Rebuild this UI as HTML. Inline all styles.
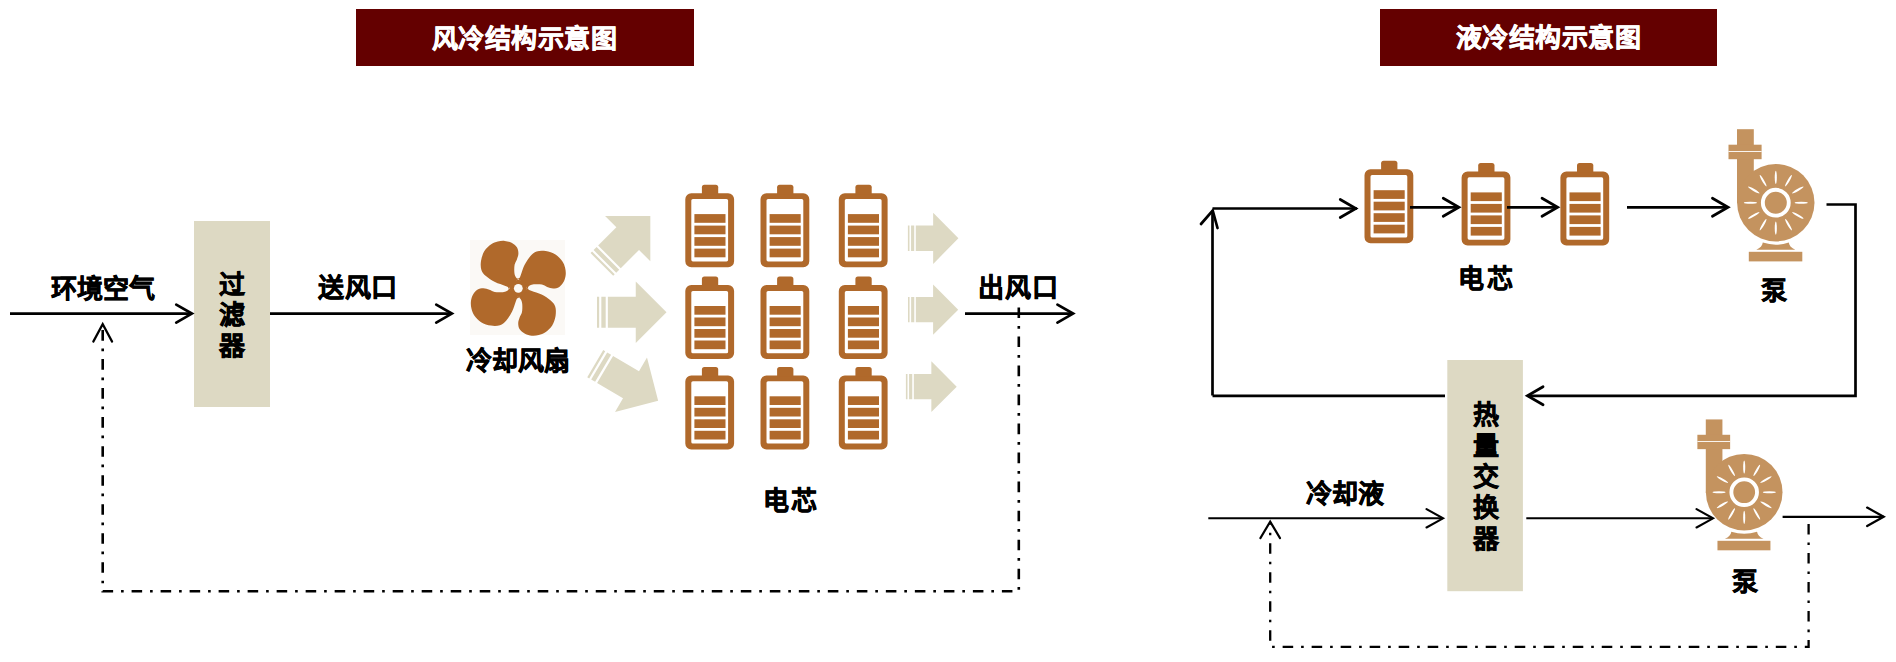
<!DOCTYPE html><html lang="zh-CN"><head><meta charset="utf-8"><style>
html,body{margin:0;padding:0;background:#fff;}
body{width:1896px;height:662px;position:relative;overflow:hidden;font-family:"Liberation Sans",sans-serif;}
.t{position:absolute;font-size:26px;line-height:26px;font-weight:bold;-webkit-text-stroke:0.6px currentColor;white-space:nowrap;}
.v{width:26px;white-space:normal;line-height:30.9px;}
</style></head><body>
<svg width="1896" height="662" viewBox="0 0 1896 662" style="position:absolute;left:0;top:0">
<rect x="356" y="9" width="338" height="57" fill="#640000"/>
<rect x="1380" y="9" width="337" height="57" fill="#640000"/>
<rect x="194" y="221" width="76" height="186" fill="#DDD9C3"/>
<rect x="1447.3" y="360" width="75.6" height="231.2" fill="#DDD9C3"/>
<rect x="470" y="240" width="95" height="95" fill="#FBF9F6"/>
<g transform="translate(518.3,288.3)"><path d="M0.00,-9.20 C0.57,-10.03 -1.07,-9.45 -1.60,-10.00 C-2.13,-10.55 -2.80,-11.37 -3.20,-12.50 C-3.60,-13.63 -3.92,-14.95 -4.00,-16.80 C-4.08,-18.65 -4.13,-21.58 -3.70,-23.60 C-3.27,-25.62 -2.03,-27.02 -1.40,-28.90 C-0.77,-30.78 0.10,-32.88 0.10,-34.90 C0.10,-36.92 -0.27,-39.23 -1.40,-41.00 C-2.53,-42.77 -4.68,-44.43 -6.70,-45.50 C-8.72,-46.57 -11.20,-47.18 -13.50,-47.40 C-15.80,-47.62 -18.23,-47.37 -20.50,-46.80 C-22.77,-46.23 -24.87,-45.60 -27.10,-44.00 C-29.33,-42.40 -32.20,-39.97 -33.90,-37.20 C-35.60,-34.43 -36.80,-30.55 -37.30,-27.40 C-37.80,-24.25 -37.72,-20.83 -36.90,-18.30 C-36.08,-15.77 -34.67,-14.22 -32.40,-12.20 C-30.13,-10.18 -26.45,-7.80 -23.30,-6.20 C-20.15,-4.60 -15.63,-3.40 -13.50,-2.60 C-11.37,-1.80 -11.22,-1.83 -10.50,-1.40 C-9.78,-0.97 -10.12,0.60 -9.20,0.00 C-8.28,-0.60 -6.53,-3.47 -5.00,-5.00 C-3.47,-6.53 -0.57,-8.37 0.00,-9.20Z" fill="#B0692B" transform="rotate(0)"/><path d="M0.00,-9.20 C0.57,-10.03 -1.07,-9.45 -1.60,-10.00 C-2.13,-10.55 -2.80,-11.37 -3.20,-12.50 C-3.60,-13.63 -3.92,-14.95 -4.00,-16.80 C-4.08,-18.65 -4.13,-21.58 -3.70,-23.60 C-3.27,-25.62 -2.03,-27.02 -1.40,-28.90 C-0.77,-30.78 0.10,-32.88 0.10,-34.90 C0.10,-36.92 -0.27,-39.23 -1.40,-41.00 C-2.53,-42.77 -4.68,-44.43 -6.70,-45.50 C-8.72,-46.57 -11.20,-47.18 -13.50,-47.40 C-15.80,-47.62 -18.23,-47.37 -20.50,-46.80 C-22.77,-46.23 -24.87,-45.60 -27.10,-44.00 C-29.33,-42.40 -32.20,-39.97 -33.90,-37.20 C-35.60,-34.43 -36.80,-30.55 -37.30,-27.40 C-37.80,-24.25 -37.72,-20.83 -36.90,-18.30 C-36.08,-15.77 -34.67,-14.22 -32.40,-12.20 C-30.13,-10.18 -26.45,-7.80 -23.30,-6.20 C-20.15,-4.60 -15.63,-3.40 -13.50,-2.60 C-11.37,-1.80 -11.22,-1.83 -10.50,-1.40 C-9.78,-0.97 -10.12,0.60 -9.20,0.00 C-8.28,-0.60 -6.53,-3.47 -5.00,-5.00 C-3.47,-6.53 -0.57,-8.37 0.00,-9.20Z" fill="#B0692B" transform="rotate(90)"/><path d="M0.00,-9.20 C0.57,-10.03 -1.07,-9.45 -1.60,-10.00 C-2.13,-10.55 -2.80,-11.37 -3.20,-12.50 C-3.60,-13.63 -3.92,-14.95 -4.00,-16.80 C-4.08,-18.65 -4.13,-21.58 -3.70,-23.60 C-3.27,-25.62 -2.03,-27.02 -1.40,-28.90 C-0.77,-30.78 0.10,-32.88 0.10,-34.90 C0.10,-36.92 -0.27,-39.23 -1.40,-41.00 C-2.53,-42.77 -4.68,-44.43 -6.70,-45.50 C-8.72,-46.57 -11.20,-47.18 -13.50,-47.40 C-15.80,-47.62 -18.23,-47.37 -20.50,-46.80 C-22.77,-46.23 -24.87,-45.60 -27.10,-44.00 C-29.33,-42.40 -32.20,-39.97 -33.90,-37.20 C-35.60,-34.43 -36.80,-30.55 -37.30,-27.40 C-37.80,-24.25 -37.72,-20.83 -36.90,-18.30 C-36.08,-15.77 -34.67,-14.22 -32.40,-12.20 C-30.13,-10.18 -26.45,-7.80 -23.30,-6.20 C-20.15,-4.60 -15.63,-3.40 -13.50,-2.60 C-11.37,-1.80 -11.22,-1.83 -10.50,-1.40 C-9.78,-0.97 -10.12,0.60 -9.20,0.00 C-8.28,-0.60 -6.53,-3.47 -5.00,-5.00 C-3.47,-6.53 -0.57,-8.37 0.00,-9.20Z" fill="#B0692B" transform="rotate(180)"/><path d="M0.00,-9.20 C0.57,-10.03 -1.07,-9.45 -1.60,-10.00 C-2.13,-10.55 -2.80,-11.37 -3.20,-12.50 C-3.60,-13.63 -3.92,-14.95 -4.00,-16.80 C-4.08,-18.65 -4.13,-21.58 -3.70,-23.60 C-3.27,-25.62 -2.03,-27.02 -1.40,-28.90 C-0.77,-30.78 0.10,-32.88 0.10,-34.90 C0.10,-36.92 -0.27,-39.23 -1.40,-41.00 C-2.53,-42.77 -4.68,-44.43 -6.70,-45.50 C-8.72,-46.57 -11.20,-47.18 -13.50,-47.40 C-15.80,-47.62 -18.23,-47.37 -20.50,-46.80 C-22.77,-46.23 -24.87,-45.60 -27.10,-44.00 C-29.33,-42.40 -32.20,-39.97 -33.90,-37.20 C-35.60,-34.43 -36.80,-30.55 -37.30,-27.40 C-37.80,-24.25 -37.72,-20.83 -36.90,-18.30 C-36.08,-15.77 -34.67,-14.22 -32.40,-12.20 C-30.13,-10.18 -26.45,-7.80 -23.30,-6.20 C-20.15,-4.60 -15.63,-3.40 -13.50,-2.60 C-11.37,-1.80 -11.22,-1.83 -10.50,-1.40 C-9.78,-0.97 -10.12,0.60 -9.20,0.00 C-8.28,-0.60 -6.53,-3.47 -5.00,-5.00 C-3.47,-6.53 -0.57,-8.37 0.00,-9.20Z" fill="#B0692B" transform="rotate(270)"/><circle r="8.6" fill="#B0692B"/><circle r="4.4" fill="#FBF9F6"/></g>
<path transform="translate(626.10,240.20) rotate(-45)" d="M-34.25,-16.00H-32.11V16.00H-34.25ZM-29.97,-16.00H-25.69V16.00H-29.97ZM-23.55,-16.00H2.25V-32.00L34.25,0L2.25,32.00V16.00H-23.55Z" fill="#DDD9C3"/>
<path transform="translate(631.75,312.25) rotate(0)" d="M-34.75,-15.38H-32.58V15.38H-34.75ZM-30.41,-15.38H-26.06V15.38H-30.41ZM-23.89,-15.38H4.00V-30.75L34.75,0L4.00,30.75V15.38H-23.89Z" fill="#DDD9C3"/>
<path transform="translate(626.70,382.20) rotate(30.5)" d="M-36.50,-15.75H-34.22V15.75H-36.50ZM-31.94,-15.75H-27.38V15.75H-31.94ZM-25.09,-15.75H5.00V-31.50L36.50,0L5.00,31.50V15.75H-25.09Z" fill="#DDD9C3"/>
<path transform="translate(933.15,238.30) rotate(0)" d="M-25.25,-12.80H-23.67V12.80H-25.25ZM-22.09,-12.80H-18.94V12.80H-22.09ZM-17.36,-12.80H0.00V-25.60L25.25,0L0.00,25.60V12.80H-17.36Z" fill="#DDD9C3"/>
<path transform="translate(933.10,309.65) rotate(0)" d="M-25.10,-12.57H-23.53V12.57H-25.10ZM-21.96,-12.57H-18.83V12.57H-21.96ZM-17.26,-12.57H0.00V-25.15L25.10,0L0.00,25.15V12.57H-17.26Z" fill="#DDD9C3"/>
<path transform="translate(931.30,386.65) rotate(0)" d="M-25.40,-12.68H-23.81V12.68H-25.40ZM-22.22,-12.68H-19.05V12.68H-22.22ZM-17.46,-12.68H0.05V-25.35L25.40,0L0.05,25.35V12.68H-17.46Z" fill="#DDD9C3"/>
<g transform="translate(685.3,193.2)">
<path fill="#B0692B" fill-rule="evenodd" d="M6,0H42.8A6,6 0 0 1 48.8,6V68A6,6 0 0 1 42.8,74H6A6,6 0 0 1 0,68V6A6,6 0 0 1 6,0Z M7.6,5.8H41.199999999999996A1.6,1.6 0 0 1 42.8,7.4V66.6A1.6,1.6 0 0 1 41.199999999999996,68.2H7.6A1.6,1.6 0 0 1 6,66.6V7.4A1.6,1.6 0 0 1 7.6,5.8Z"/>
<path fill="#B0692B" d="M16.6,1V-6A2.5,2.5 0 0 1 19.1,-8.5H30.4A2.5,2.5 0 0 1 32.9,-6V1Z"/>
<rect x="9.1" y="20.9" width="31.1" height="8.7" fill="#B0692B"/>
<rect x="9.1" y="32.4" width="31.1" height="8.7" fill="#B0692B"/>
<rect x="9.1" y="43.9" width="31.1" height="8.7" fill="#B0692B"/>
<rect x="9.1" y="55.4" width="31.1" height="8.7" fill="#B0692B"/>
</g>
<g transform="translate(685.3,285.1)">
<path fill="#B0692B" fill-rule="evenodd" d="M6,0H42.8A6,6 0 0 1 48.8,6V68A6,6 0 0 1 42.8,74H6A6,6 0 0 1 0,68V6A6,6 0 0 1 6,0Z M7.6,5.8H41.199999999999996A1.6,1.6 0 0 1 42.8,7.4V66.6A1.6,1.6 0 0 1 41.199999999999996,68.2H7.6A1.6,1.6 0 0 1 6,66.6V7.4A1.6,1.6 0 0 1 7.6,5.8Z"/>
<path fill="#B0692B" d="M16.6,1V-6A2.5,2.5 0 0 1 19.1,-8.5H30.4A2.5,2.5 0 0 1 32.9,-6V1Z"/>
<rect x="9.1" y="20.9" width="31.1" height="8.7" fill="#B0692B"/>
<rect x="9.1" y="32.4" width="31.1" height="8.7" fill="#B0692B"/>
<rect x="9.1" y="43.9" width="31.1" height="8.7" fill="#B0692B"/>
<rect x="9.1" y="55.4" width="31.1" height="8.7" fill="#B0692B"/>
</g>
<g transform="translate(685.3,375.4)">
<path fill="#B0692B" fill-rule="evenodd" d="M6,0H42.8A6,6 0 0 1 48.8,6V68A6,6 0 0 1 42.8,74H6A6,6 0 0 1 0,68V6A6,6 0 0 1 6,0Z M7.6,5.8H41.199999999999996A1.6,1.6 0 0 1 42.8,7.4V66.6A1.6,1.6 0 0 1 41.199999999999996,68.2H7.6A1.6,1.6 0 0 1 6,66.6V7.4A1.6,1.6 0 0 1 7.6,5.8Z"/>
<path fill="#B0692B" d="M16.6,1V-6A2.5,2.5 0 0 1 19.1,-8.5H30.4A2.5,2.5 0 0 1 32.9,-6V1Z"/>
<rect x="9.1" y="20.9" width="31.1" height="8.7" fill="#B0692B"/>
<rect x="9.1" y="32.4" width="31.1" height="8.7" fill="#B0692B"/>
<rect x="9.1" y="43.9" width="31.1" height="8.7" fill="#B0692B"/>
<rect x="9.1" y="55.4" width="31.1" height="8.7" fill="#B0692B"/>
</g>
<g transform="translate(760.5,193.2)">
<path fill="#B0692B" fill-rule="evenodd" d="M6,0H42.8A6,6 0 0 1 48.8,6V68A6,6 0 0 1 42.8,74H6A6,6 0 0 1 0,68V6A6,6 0 0 1 6,0Z M7.6,5.8H41.199999999999996A1.6,1.6 0 0 1 42.8,7.4V66.6A1.6,1.6 0 0 1 41.199999999999996,68.2H7.6A1.6,1.6 0 0 1 6,66.6V7.4A1.6,1.6 0 0 1 7.6,5.8Z"/>
<path fill="#B0692B" d="M16.6,1V-6A2.5,2.5 0 0 1 19.1,-8.5H30.4A2.5,2.5 0 0 1 32.9,-6V1Z"/>
<rect x="9.1" y="20.9" width="31.1" height="8.7" fill="#B0692B"/>
<rect x="9.1" y="32.4" width="31.1" height="8.7" fill="#B0692B"/>
<rect x="9.1" y="43.9" width="31.1" height="8.7" fill="#B0692B"/>
<rect x="9.1" y="55.4" width="31.1" height="8.7" fill="#B0692B"/>
</g>
<g transform="translate(760.5,285.1)">
<path fill="#B0692B" fill-rule="evenodd" d="M6,0H42.8A6,6 0 0 1 48.8,6V68A6,6 0 0 1 42.8,74H6A6,6 0 0 1 0,68V6A6,6 0 0 1 6,0Z M7.6,5.8H41.199999999999996A1.6,1.6 0 0 1 42.8,7.4V66.6A1.6,1.6 0 0 1 41.199999999999996,68.2H7.6A1.6,1.6 0 0 1 6,66.6V7.4A1.6,1.6 0 0 1 7.6,5.8Z"/>
<path fill="#B0692B" d="M16.6,1V-6A2.5,2.5 0 0 1 19.1,-8.5H30.4A2.5,2.5 0 0 1 32.9,-6V1Z"/>
<rect x="9.1" y="20.9" width="31.1" height="8.7" fill="#B0692B"/>
<rect x="9.1" y="32.4" width="31.1" height="8.7" fill="#B0692B"/>
<rect x="9.1" y="43.9" width="31.1" height="8.7" fill="#B0692B"/>
<rect x="9.1" y="55.4" width="31.1" height="8.7" fill="#B0692B"/>
</g>
<g transform="translate(760.5,375.4)">
<path fill="#B0692B" fill-rule="evenodd" d="M6,0H42.8A6,6 0 0 1 48.8,6V68A6,6 0 0 1 42.8,74H6A6,6 0 0 1 0,68V6A6,6 0 0 1 6,0Z M7.6,5.8H41.199999999999996A1.6,1.6 0 0 1 42.8,7.4V66.6A1.6,1.6 0 0 1 41.199999999999996,68.2H7.6A1.6,1.6 0 0 1 6,66.6V7.4A1.6,1.6 0 0 1 7.6,5.8Z"/>
<path fill="#B0692B" d="M16.6,1V-6A2.5,2.5 0 0 1 19.1,-8.5H30.4A2.5,2.5 0 0 1 32.9,-6V1Z"/>
<rect x="9.1" y="20.9" width="31.1" height="8.7" fill="#B0692B"/>
<rect x="9.1" y="32.4" width="31.1" height="8.7" fill="#B0692B"/>
<rect x="9.1" y="43.9" width="31.1" height="8.7" fill="#B0692B"/>
<rect x="9.1" y="55.4" width="31.1" height="8.7" fill="#B0692B"/>
</g>
<g transform="translate(838.8,193.2)">
<path fill="#B0692B" fill-rule="evenodd" d="M6,0H42.8A6,6 0 0 1 48.8,6V68A6,6 0 0 1 42.8,74H6A6,6 0 0 1 0,68V6A6,6 0 0 1 6,0Z M7.6,5.8H41.199999999999996A1.6,1.6 0 0 1 42.8,7.4V66.6A1.6,1.6 0 0 1 41.199999999999996,68.2H7.6A1.6,1.6 0 0 1 6,66.6V7.4A1.6,1.6 0 0 1 7.6,5.8Z"/>
<path fill="#B0692B" d="M16.6,1V-6A2.5,2.5 0 0 1 19.1,-8.5H30.4A2.5,2.5 0 0 1 32.9,-6V1Z"/>
<rect x="9.1" y="20.9" width="31.1" height="8.7" fill="#B0692B"/>
<rect x="9.1" y="32.4" width="31.1" height="8.7" fill="#B0692B"/>
<rect x="9.1" y="43.9" width="31.1" height="8.7" fill="#B0692B"/>
<rect x="9.1" y="55.4" width="31.1" height="8.7" fill="#B0692B"/>
</g>
<g transform="translate(838.8,285.1)">
<path fill="#B0692B" fill-rule="evenodd" d="M6,0H42.8A6,6 0 0 1 48.8,6V68A6,6 0 0 1 42.8,74H6A6,6 0 0 1 0,68V6A6,6 0 0 1 6,0Z M7.6,5.8H41.199999999999996A1.6,1.6 0 0 1 42.8,7.4V66.6A1.6,1.6 0 0 1 41.199999999999996,68.2H7.6A1.6,1.6 0 0 1 6,66.6V7.4A1.6,1.6 0 0 1 7.6,5.8Z"/>
<path fill="#B0692B" d="M16.6,1V-6A2.5,2.5 0 0 1 19.1,-8.5H30.4A2.5,2.5 0 0 1 32.9,-6V1Z"/>
<rect x="9.1" y="20.9" width="31.1" height="8.7" fill="#B0692B"/>
<rect x="9.1" y="32.4" width="31.1" height="8.7" fill="#B0692B"/>
<rect x="9.1" y="43.9" width="31.1" height="8.7" fill="#B0692B"/>
<rect x="9.1" y="55.4" width="31.1" height="8.7" fill="#B0692B"/>
</g>
<g transform="translate(838.8,375.4)">
<path fill="#B0692B" fill-rule="evenodd" d="M6,0H42.8A6,6 0 0 1 48.8,6V68A6,6 0 0 1 42.8,74H6A6,6 0 0 1 0,68V6A6,6 0 0 1 6,0Z M7.6,5.8H41.199999999999996A1.6,1.6 0 0 1 42.8,7.4V66.6A1.6,1.6 0 0 1 41.199999999999996,68.2H7.6A1.6,1.6 0 0 1 6,66.6V7.4A1.6,1.6 0 0 1 7.6,5.8Z"/>
<path fill="#B0692B" d="M16.6,1V-6A2.5,2.5 0 0 1 19.1,-8.5H30.4A2.5,2.5 0 0 1 32.9,-6V1Z"/>
<rect x="9.1" y="20.9" width="31.1" height="8.7" fill="#B0692B"/>
<rect x="9.1" y="32.4" width="31.1" height="8.7" fill="#B0692B"/>
<rect x="9.1" y="43.9" width="31.1" height="8.7" fill="#B0692B"/>
<rect x="9.1" y="55.4" width="31.1" height="8.7" fill="#B0692B"/>
</g>
<g transform="translate(1364.5,169.3)">
<path fill="#B0692B" fill-rule="evenodd" d="M6,0H42.8A6,6 0 0 1 48.8,6V68A6,6 0 0 1 42.8,74H6A6,6 0 0 1 0,68V6A6,6 0 0 1 6,0Z M7.6,5.8H41.199999999999996A1.6,1.6 0 0 1 42.8,7.4V66.6A1.6,1.6 0 0 1 41.199999999999996,68.2H7.6A1.6,1.6 0 0 1 6,66.6V7.4A1.6,1.6 0 0 1 7.6,5.8Z"/>
<path fill="#B0692B" d="M16.6,1V-6A2.5,2.5 0 0 1 19.1,-8.5H30.4A2.5,2.5 0 0 1 32.9,-6V1Z"/>
<rect x="9.1" y="20.9" width="31.1" height="8.7" fill="#B0692B"/>
<rect x="9.1" y="32.4" width="31.1" height="8.7" fill="#B0692B"/>
<rect x="9.1" y="43.9" width="31.1" height="8.7" fill="#B0692B"/>
<rect x="9.1" y="55.4" width="31.1" height="8.7" fill="#B0692B"/>
</g>
<g transform="translate(1461.6,171.5)">
<path fill="#B0692B" fill-rule="evenodd" d="M6,0H42.8A6,6 0 0 1 48.8,6V68A6,6 0 0 1 42.8,74H6A6,6 0 0 1 0,68V6A6,6 0 0 1 6,0Z M7.6,5.8H41.199999999999996A1.6,1.6 0 0 1 42.8,7.4V66.6A1.6,1.6 0 0 1 41.199999999999996,68.2H7.6A1.6,1.6 0 0 1 6,66.6V7.4A1.6,1.6 0 0 1 7.6,5.8Z"/>
<path fill="#B0692B" d="M16.6,1V-6A2.5,2.5 0 0 1 19.1,-8.5H30.4A2.5,2.5 0 0 1 32.9,-6V1Z"/>
<rect x="9.1" y="20.9" width="31.1" height="8.7" fill="#B0692B"/>
<rect x="9.1" y="32.4" width="31.1" height="8.7" fill="#B0692B"/>
<rect x="9.1" y="43.9" width="31.1" height="8.7" fill="#B0692B"/>
<rect x="9.1" y="55.4" width="31.1" height="8.7" fill="#B0692B"/>
</g>
<g transform="translate(1560.4,171.5)">
<path fill="#B0692B" fill-rule="evenodd" d="M6,0H42.8A6,6 0 0 1 48.8,6V68A6,6 0 0 1 42.8,74H6A6,6 0 0 1 0,68V6A6,6 0 0 1 6,0Z M7.6,5.8H41.199999999999996A1.6,1.6 0 0 1 42.8,7.4V66.6A1.6,1.6 0 0 1 41.199999999999996,68.2H7.6A1.6,1.6 0 0 1 6,66.6V7.4A1.6,1.6 0 0 1 7.6,5.8Z"/>
<path fill="#B0692B" d="M16.6,1V-6A2.5,2.5 0 0 1 19.1,-8.5H30.4A2.5,2.5 0 0 1 32.9,-6V1Z"/>
<rect x="9.1" y="20.9" width="31.1" height="8.7" fill="#B0692B"/>
<rect x="9.1" y="32.4" width="31.1" height="8.7" fill="#B0692B"/>
<rect x="9.1" y="43.9" width="31.1" height="8.7" fill="#B0692B"/>
<rect x="9.1" y="55.4" width="31.1" height="8.7" fill="#B0692B"/>
</g>
<g transform="translate(1775.8,202.7) scale(1.0)">
<rect x="-38.8" y="-73.5" width="16.8" height="74" fill="#C4935F"/>
<rect x="-47.3" y="-58" width="33.1" height="14.5" fill="#C4935F"/>
<rect x="-47.3" y="-51.7" width="33.1" height="0.9" fill="#fff"/>
<circle cx="0" cy="0" r="38.7" fill="#C4935F"/>
<circle cx="0" cy="0" r="12.95" fill="none" stroke="#fff" stroke-width="3.9"/>
<ellipse cx="0" cy="-25.4" rx="1.05" ry="6.6" fill="#fff" transform="rotate(0)"/><ellipse cx="0" cy="-25.4" rx="1.05" ry="6.6" fill="#fff" transform="rotate(30)"/><ellipse cx="0" cy="-25.4" rx="1.05" ry="6.6" fill="#fff" transform="rotate(60)"/><ellipse cx="0" cy="-25.4" rx="1.05" ry="6.6" fill="#fff" transform="rotate(90)"/><ellipse cx="0" cy="-25.4" rx="1.05" ry="6.6" fill="#fff" transform="rotate(120)"/><ellipse cx="0" cy="-25.4" rx="1.05" ry="6.6" fill="#fff" transform="rotate(150)"/><ellipse cx="0" cy="-25.4" rx="1.05" ry="6.6" fill="#fff" transform="rotate(180)"/><ellipse cx="0" cy="-25.4" rx="1.05" ry="6.6" fill="#fff" transform="rotate(210)"/><ellipse cx="0" cy="-25.4" rx="1.05" ry="6.6" fill="#fff" transform="rotate(240)"/><ellipse cx="0" cy="-25.4" rx="1.05" ry="6.6" fill="#fff" transform="rotate(270)"/><ellipse cx="0" cy="-25.4" rx="1.05" ry="6.6" fill="#fff" transform="rotate(300)"/><ellipse cx="0" cy="-25.4" rx="1.05" ry="6.6" fill="#fff" transform="rotate(330)"/>
<path fill="#C4935F" d="M-19.5,47 C-15.5,45.5 -13.5,43 -13,39.9 A42,42 0 0 0 13,39.9 C13.5,43 15.5,45.5 19.5,47Z"/>
<rect x="-27" y="49.1" width="53.5" height="9.6" fill="#C4935F"/>
</g>
<g transform="translate(1744.2,492.2) scale(0.99)">
<rect x="-38.8" y="-73.5" width="16.8" height="74" fill="#C4935F"/>
<rect x="-47.3" y="-58" width="33.1" height="14.5" fill="#C4935F"/>
<rect x="-47.3" y="-51.7" width="33.1" height="0.9" fill="#fff"/>
<circle cx="0" cy="0" r="38.7" fill="#C4935F"/>
<circle cx="0" cy="0" r="12.95" fill="none" stroke="#fff" stroke-width="3.9"/>
<ellipse cx="0" cy="-25.4" rx="1.05" ry="6.6" fill="#fff" transform="rotate(0)"/><ellipse cx="0" cy="-25.4" rx="1.05" ry="6.6" fill="#fff" transform="rotate(30)"/><ellipse cx="0" cy="-25.4" rx="1.05" ry="6.6" fill="#fff" transform="rotate(60)"/><ellipse cx="0" cy="-25.4" rx="1.05" ry="6.6" fill="#fff" transform="rotate(90)"/><ellipse cx="0" cy="-25.4" rx="1.05" ry="6.6" fill="#fff" transform="rotate(120)"/><ellipse cx="0" cy="-25.4" rx="1.05" ry="6.6" fill="#fff" transform="rotate(150)"/><ellipse cx="0" cy="-25.4" rx="1.05" ry="6.6" fill="#fff" transform="rotate(180)"/><ellipse cx="0" cy="-25.4" rx="1.05" ry="6.6" fill="#fff" transform="rotate(210)"/><ellipse cx="0" cy="-25.4" rx="1.05" ry="6.6" fill="#fff" transform="rotate(240)"/><ellipse cx="0" cy="-25.4" rx="1.05" ry="6.6" fill="#fff" transform="rotate(270)"/><ellipse cx="0" cy="-25.4" rx="1.05" ry="6.6" fill="#fff" transform="rotate(300)"/><ellipse cx="0" cy="-25.4" rx="1.05" ry="6.6" fill="#fff" transform="rotate(330)"/>
<path fill="#C4935F" d="M-19.5,47 C-15.5,45.5 -13.5,43 -13,39.9 A42,42 0 0 0 13,39.9 C13.5,43 15.5,45.5 19.5,47Z"/>
<rect x="-27" y="49.1" width="53.5" height="9.6" fill="#C4935F"/>
</g>
<path d="M10,313.6H192" fill="none" stroke="#000" stroke-width="2.7" stroke-linejoin="miter" stroke-linecap="butt" stroke-miterlimit="10" />
<path d="M176.25,322.60L191.85,313.60L176.25,304.60" fill="none" stroke="#000" stroke-width="2.75" stroke-linejoin="miter" stroke-linecap="round" stroke-miterlimit="10" />
<path d="M270,313.6H452" fill="none" stroke="#000" stroke-width="2.7" stroke-linejoin="miter" stroke-linecap="butt" stroke-miterlimit="10" />
<path d="M436.25,322.60L451.85,313.60L436.25,304.60" fill="none" stroke="#000" stroke-width="2.75" stroke-linejoin="miter" stroke-linecap="round" stroke-miterlimit="10" />
<path d="M965,313.6H1073" fill="none" stroke="#000" stroke-width="2.7" stroke-linejoin="miter" stroke-linecap="butt" stroke-miterlimit="10" />
<path d="M1057.45,322.60L1073.05,313.60L1057.45,304.60" fill="none" stroke="#000" stroke-width="2.75" stroke-linejoin="miter" stroke-linecap="round" stroke-miterlimit="10" />
<path d="M1018.8,307.56V591.3H102.7V326" fill="none" stroke="#000" stroke-width="2.6" stroke-linejoin="miter" stroke-linecap="butt" stroke-miterlimit="10" stroke-dasharray="10.55 7.91 2.64 7.91"/>
<path d="M112.10,341.62L102.70,324.12L93.30,341.62" fill="none" stroke="#000" stroke-width="2.2" stroke-linejoin="miter" stroke-linecap="round" stroke-miterlimit="10" />
<path d="M1212.5,395.5V211" fill="none" stroke="#000" stroke-width="2.7" stroke-linejoin="miter" stroke-linecap="butt" stroke-miterlimit="10" />
<path d="M1212.5,208.5H1357" fill="none" stroke="#000" stroke-width="2.7" stroke-linejoin="miter" stroke-linecap="butt" stroke-miterlimit="10" />
<path d="M1201,224 L1212.7,210.5 L1217.5,228" fill="none" stroke="#000" stroke-width="2.7" stroke-linejoin="miter" stroke-linecap="round" stroke-miterlimit="10" />
<path d="M1340.25,217.50L1355.85,208.50L1340.25,199.50" fill="none" stroke="#000" stroke-width="2.75" stroke-linejoin="miter" stroke-linecap="round" stroke-miterlimit="10" />
<path d="M1410,207.3H1459" fill="none" stroke="#000" stroke-width="2.7" stroke-linejoin="miter" stroke-linecap="butt" stroke-miterlimit="10" />
<path d="M1443.25,216.30L1458.85,207.30L1443.25,198.30" fill="none" stroke="#000" stroke-width="2.75" stroke-linejoin="miter" stroke-linecap="round" stroke-miterlimit="10" />
<path d="M1507,207.3H1557" fill="none" stroke="#000" stroke-width="2.7" stroke-linejoin="miter" stroke-linecap="butt" stroke-miterlimit="10" />
<path d="M1542.05,216.30L1557.65,207.30L1542.05,198.30" fill="none" stroke="#000" stroke-width="2.75" stroke-linejoin="miter" stroke-linecap="round" stroke-miterlimit="10" />
<path d="M1627,207.3H1728" fill="none" stroke="#000" stroke-width="2.7" stroke-linejoin="miter" stroke-linecap="butt" stroke-miterlimit="10" />
<path d="M1712.45,216.30L1728.05,207.30L1712.45,198.30" fill="none" stroke="#000" stroke-width="2.75" stroke-linejoin="miter" stroke-linecap="round" stroke-miterlimit="10" />
<path d="M1826.5,204.5H1855.5V395.8H1528" fill="none" stroke="#000" stroke-width="2.7" stroke-linejoin="miter" stroke-linecap="butt" stroke-miterlimit="10" />
<path d="M1543.05,386.80L1527.45,395.80L1543.05,404.80" fill="none" stroke="#000" stroke-width="2.75" stroke-linejoin="miter" stroke-linecap="round" stroke-miterlimit="10" />
<path d="M1445,395.8H1212.5" fill="none" stroke="#000" stroke-width="2.7" stroke-linejoin="miter" stroke-linecap="butt" stroke-miterlimit="10" />
<path d="M1208.3,518.3H1443" fill="none" stroke="#000" stroke-width="2.0" stroke-linejoin="miter" stroke-linecap="butt" stroke-miterlimit="10" />
<path d="M1426.54,527.50L1443.04,518.30L1426.54,509.10" fill="none" stroke="#000" stroke-width="2.1" stroke-linejoin="miter" stroke-linecap="round" stroke-miterlimit="10" />
<path d="M1526.3,518.3H1713" fill="none" stroke="#000" stroke-width="2.0" stroke-linejoin="miter" stroke-linecap="butt" stroke-miterlimit="10" />
<path d="M1696.54,527.50L1713.04,518.30L1696.54,509.10" fill="none" stroke="#000" stroke-width="2.1" stroke-linejoin="miter" stroke-linecap="round" stroke-miterlimit="10" />
<path d="M1782.6,516.8H1884" fill="none" stroke="#000" stroke-width="2.2" stroke-linejoin="miter" stroke-linecap="butt" stroke-miterlimit="10" />
<path d="M1867.14,526.00L1883.64,516.80L1867.14,507.60" fill="none" stroke="#000" stroke-width="2.3" stroke-linejoin="miter" stroke-linecap="round" stroke-miterlimit="10" />
<path d="M1808.6,524V646.8H1270.2V522" fill="none" stroke="#000" stroke-width="2.3" stroke-linejoin="miter" stroke-linecap="butt" stroke-miterlimit="10" stroke-dasharray="10.55 7.91 2.64 7.91"/>
<path d="M1280.00,538.16L1270.20,521.66L1260.40,538.16" fill="none" stroke="#000" stroke-width="2.1" stroke-linejoin="miter" stroke-linecap="round" stroke-miterlimit="10" />
</svg>
<div class="t" style="left:431.8px;top:25.5px;color:#fff;letter-spacing:0.5px;">风冷结构示意图</div>
<div class="t" style="left:1455.7px;top:25.4px;color:#fff;letter-spacing:0.5px;">液冷结构示意图</div>
<div class="t" style="left:50.5px;top:276.0px;color:#000;">环境空气</div>
<div class="t" style="left:318.2px;top:275.2px;color:#000;letter-spacing:0.6px;">送风口</div>
<div class="t" style="left:465.6px;top:348.1px;color:#000;">冷却风扇</div>
<div class="t" style="left:762.5px;top:487.8px;color:#000;letter-spacing:2.5px;">电芯</div>
<div class="t" style="left:977.9px;top:275.2px;color:#000;letter-spacing:1.2px;">出风口</div>
<div class="t v" style="left:218.5px;top:269.5px;color:#000;">过<br>滤<br>器</div>
<div class="t" style="left:1458.1px;top:265.5px;color:#000;letter-spacing:2.5px;">电芯</div>
<div class="t" style="left:1761.1px;top:278.1px;color:#000;">泵</div>
<div class="t" style="left:1305.8px;top:480.9px;color:#000;">冷却液</div>
<div class="t v" style="left:1472.5px;top:400.2px;color:#000;">热<br>量<br>交<br>换<br>器</div>
<div class="t" style="left:1731.6px;top:569.3px;color:#000;">泵</div>
</body></html>
